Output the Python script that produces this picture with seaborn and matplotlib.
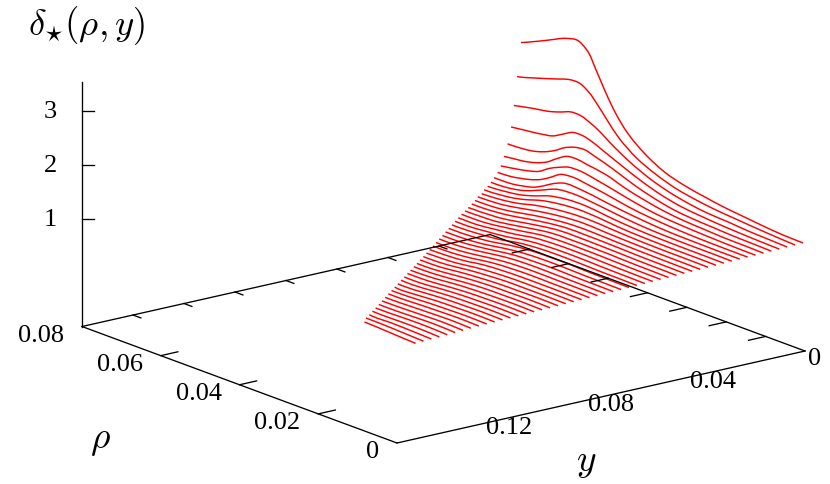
import matplotlib
matplotlib.use("Agg")
import matplotlib.pyplot as plt
import numpy as np
import pandas as pd
import seaborn as sns
from matplotlib.patches import PathPatch
from matplotlib.path import Path

rho_stops = [0, .005, .01, .015, .02, .025, .03, .035, .04, .045, .0475,
             .05, .0525, .055, .0575, .06, .065, .07]

# y of each curve, front-right end first
y_curves = [.0008, .0039, .0070, .0101, .0132, .0163, .0194, .0225, .0256, .0287,
            .0318, .0349, .0380, .0411, .0442, .0473, .0504, .0535, .0566, .0597,
            .0628, .0659, .0690, .0721, .0752, .0783, .0814, .0845, .0876, .0907,
            .0938, .0969, .1000, .1031, .1062, .1093, .1124, .1155, .1186, .1217,
            .1248, .1279, .1310, .1341, .1372, .1403, .1434, .1465, .1496, .1527]

# rho where each curve stops
rho_ends = [.0716, .0706, .0694, .0681, .0670, .0659, .0647, .0635, .0624, .0612,
            .0600, .0589, .0575, .0565, .0552, .0540, .0529, .0517, .0506, .0494,
            .0482, .0470, .0458, .0446, .0434, .0422, .0410, .0398, .0386, .0374,
            .0362, .0350, .0338, .0326, .0314, .0302, .0290, .0278, .0266, .0254,
            .0242, .0230, .0218, .0206, .0194, .0182, .0170, .0158, .0146, .0130]

# delta at rho_stops below the end of the curve, then delta at the end
delta_rows = [
    [1.01, 1.02, 1.05, 1.09, 1.13, 1.19, 1.26, 1.37, 1.57, 1.88, 2.12, 2.43, 2.79, 3.11, 3.22, 3.18, 3.01, 2.84, 2.79],
    [1.005, 1.025, 1.05, 1.08, 1.11, 1.16, 1.23, 1.35, 1.52, 1.80, 2.01, 2.235, 2.43, 2.53, 2.52, 2.46, 2.34, 2.23, 2.22],
    [1.00, 1.015, 1.03, 1.06, 1.08, 1.13, 1.21, 1.33, 1.50, 1.72, 1.85, 1.95, 2.02, 2.02, 1.95, 1.89, 1.82, 1.75],
    [.995, 1.005, 1.02, 1.04, 1.07, 1.11, 1.19, 1.31, 1.46, 1.62, 1.70, 1.75, 1.74, 1.64, 1.54, 1.50, 1.45, 1.42],
    [.99, 1.0, 1.01, 1.03, 1.05, 1.09, 1.17, 1.28, 1.42, 1.54, 1.59, 1.565, 1.49, 1.37, 1.28, 1.22, 1.175, 1.17],
    [.985, .995, 1.0, 1.02, 1.04, 1.08, 1.15, 1.24, 1.36, 1.42, 1.45, 1.43, 1.32, 1.19, 1.11, 1.06, 1.01, 1.0],
    [.98, .985, .995, 1.01, 1.03, 1.06, 1.12, 1.20, 1.28, 1.34, 1.33, 1.26, 1.17, 1.05, .99, .95, .89],
    [.978, .98, .985, .995, 1.015, 1.045, 1.09, 1.16, 1.22, 1.26, 1.23, 1.11, 1.0, .93, .885, .85, .835],
    [.975, .975, .98, .985, 1.0, 1.03, 1.07, 1.12, 1.17, 1.17, 1.09, .98, .89, .845, .81, .80, .80],
    [.969, .974, .975, .98, .99, 1.015, 1.055, 1.10, 1.13, 1.09, 1.01, .93, .86, .815, .79, .78, .78],
    [.964, .968, .97, .975, .985, 1.005, 1.04, 1.08, 1.07, 1.0, .93, .87, .825, .80, .78, .77],
    [.96, .964, .965, .97, .98, 1.0, 1.035, 1.05, 1.02, .95, .89, .84, .805, .785, .77, .77],
    [.955, .96, .962, .968, .98, 1.0, 1.02, 1.01, .97, .90, .85, .815, .79, .775, .767],
    [.95, .955, .958, .965, .975, .99, 1.005, .98, .93, .86, .825, .795, .78, .772, .77],
    [.946, .95, .955, .962, .972, .985, .985, .955, .90, .83, .80, .78, .772, .77, .77],
    [.941, .946, .95, .96, .97, .975, .975, .935, .875, .81, .79, .775, .77, .77],
    [.937, .942, .947, .957, .965, .97, .965, .915, .85, .79, .78, .77, .768, .765],
    [.932, .937, .943, .955, .96, .96, .95, .895, .83, .78, .775, .77, .77],
    [.928, .933, .94, .95, .955, .955, .935, .875, .82, .775, .77, .77, .77],
    [.923, .928, .935, .945, .95, .945, .92, .855, .81, .77, .77, .77],
    [.919, .924, .93, .94, .945, .935, .905, .84, .80, .77, .77, .77],
    [.915, .92, .925, .935, .94, .93, .895, .825, .79, .77, .77],
    [.91, .915, .92, .93, .93, .92, .88, .815, .78, .77, .77],
    [.905, .91, .915, .925, .925, .91, .865, .805, .775, .77],
    [.901, .906, .91, .92, .915, .90, .85, .80, .77, .77],
    [.896, .90, .905, .91, .91, .89, .84, .79, .77, .77],
    [.892, .897, .90, .905, .90, .875, .825, .78, .77, .77],
    [.887, .892, .895, .90, .89, .865, .81, .775, .77],
    [.883, .888, .89, .89, .88, .855, .80, .775, .77],
    [.878, .883, .885, .885, .87, .84, .79, .775, .77],
    [.874, .879, .88, .88, .86, .83, .785, .77, .77],
    [.87, .878, .875, .87, .85, .82, .78, .775],
    [.865, .873, .87, .865, .845, .81, .778, .775],
    [.86, .868, .865, .86, .835, .80, .78, .78],
    [.856, .864, .86, .85, .83, .795, .78, .78],
    [.851, .859, .855, .845, .82, .79, .785, .785],
    [.847, .855, .85, .84, .815, .785, .785],
    [.842, .85, .845, .835, .81, .785, .79],
    [.838, .846, .84, .83, .805, .785, .79],
    [.833, .841, .835, .825, .80, .79, .795],
    [.829, .837, .83, .82, .80, .795],
    [.823, .833, .825, .815, .80, .80],
    [.816, .828, .82, .81, .80, .80],
    [.809, .823, .815, .805, .80, .80],
    [.802, .817, .81, .80, .80],
    [.795, .81, .81, .80, .80],
    [.788, .803, .805, .80, .805],
    [.781, .796, .805, .80, .805],
    [.774, .79, .805, .81],
    [.767, .785, .805, .813],
]

z_ticks = [1, 2, 3]
rho_front_ticks = [.02, .04, .06]
rho_side_ticks = [.01, .02, .03, .04, .05, .06, .07]
y_back_ticks = [.02, .04, .06, .08, .10, .12, .14]
rho_labels = [0, .02, .04, .06, .08]
y_labels = [0, .04, .08, .12]

RHO_MAX = .08
Y_MAX = .16
Z_MIN = -1
Z_TOP = 3.52


def project(rho, y, z=Z_MIN):
    """gnuplot style view: data to pixel position on the page."""
    sx = 805 - 2550 * y - 3937.5 * rho
    sy = 351 + 575 * y - 1456 * rho - 54 * (z - Z_MIN)
    return sx, sy


def curved_path(xy):
    """Bezier path through the points of a line, so it draws without corners."""
    h = np.hypot(*np.diff(xy, axis=0).T)
    slopes = np.gradient(xy, np.r_[0, np.cumsum(h)], axis=0)
    verts = [xy[0]]
    for i in range(len(h)):
        verts.append(xy[i] + slopes[i] * h[i] / 3)
        verts.append(xy[i + 1] - slopes[i + 1] * h[i] / 3)
        verts.append(xy[i + 1])
    codes = [Path.MOVETO] + [Path.CURVE4] * (3 * len(h))
    return Path(verts, codes)


rows = []
for k, (y, rho_end, deltas) in enumerate(zip(y_curves, rho_ends, delta_rows)):
    rhos = rho_stops[:len(deltas) - 1] + [rho_end]
    for rho, delta in zip(rhos, deltas):
        sx, sy = project(rho, y, delta)
        rows.append({"curve": k, "sx": sx, "sy": sy})
df = pd.DataFrame(rows)

sns.set_theme(style="white")
plt.rcParams["font.family"] = ["Liberation Serif", "DejaVu Serif"]
plt.rcParams["mathtext.fontset"] = "cm"
plt.rcParams["text.color"] = "black"

fig = plt.figure(figsize=(8.3, 4.84), dpi=100)
ax = fig.add_axes([0, 0, 1, 1])

sns.lineplot(data=df, x="sx", y="sy", units="curve", estimator=None, sort=False,
             color="#ff0000", linewidth=1.05, ax=ax, legend=False, zorder=2)

# swap seaborn's straight segments for curved ones through the same points
for line in list(ax.lines):
    ax.add_patch(PathPatch(curved_path(line.get_xydata()), fill=False, edgecolor="#ff0000",
                           linewidth=1.05, zorder=2, capstyle="butt"))
    line.remove()

ax.set_xlim(0, 830)
ax.set_ylim(484, 0)
ax.axis("off")


def black_line(p, q, lw=0.95):
    ax.plot([p[0], q[0]], [p[1], q[1]], color="black", lw=lw, zorder=3,
            solid_capstyle="projecting")


# box outline and the z axis
corners = [(RHO_MAX, Y_MAX), (0, Y_MAX), (0, 0), (RHO_MAX, 0), (RHO_MAX, Y_MAX)]
for a, b in zip(corners[:-1], corners[1:]):
    black_line(project(*a), project(*b))
black_line(project(RHO_MAX, Y_MAX), project(RHO_MAX, Y_MAX, Z_TOP))

for z in z_ticks:
    px, py = project(RHO_MAX, Y_MAX, z)
    black_line((px, py), (px + 12, py))
    ax.text(px - 32, py + 1, str(z), fontsize=19, ha="center", va="center")

for rho in rho_front_ticks:
    black_line(project(rho, Y_MAX), project(rho, Y_MAX - .0067))
for rho in rho_side_ticks:
    black_line(project(rho, 0), project(rho, .0067))
for y in y_back_ticks:
    black_line(project(RHO_MAX, y), project(RHO_MAX - .002, y))

for rho in rho_labels:
    px, py = project(rho, Y_MAX)
    ax.text(px - 18, py + 9, f"{rho:g}", fontsize=19, ha="right", va="center")
for y in y_labels:
    px, py = project(0, y)
    ax.text(px + 10, py + 8, f"{y:g}", fontsize=19, ha="center", va="center")

ax.text(87, 26, r"$\delta_{\star}(\rho,y)$", fontsize=26.5, ha="center", va="center")
ax.text(100, 441, r"$\rho$", fontsize=27, ha="center", va="center")
ax.text(586, 463, r"$y$", fontsize=27, ha="center", va="center")

fig.savefig("out.png", dpi=100)
